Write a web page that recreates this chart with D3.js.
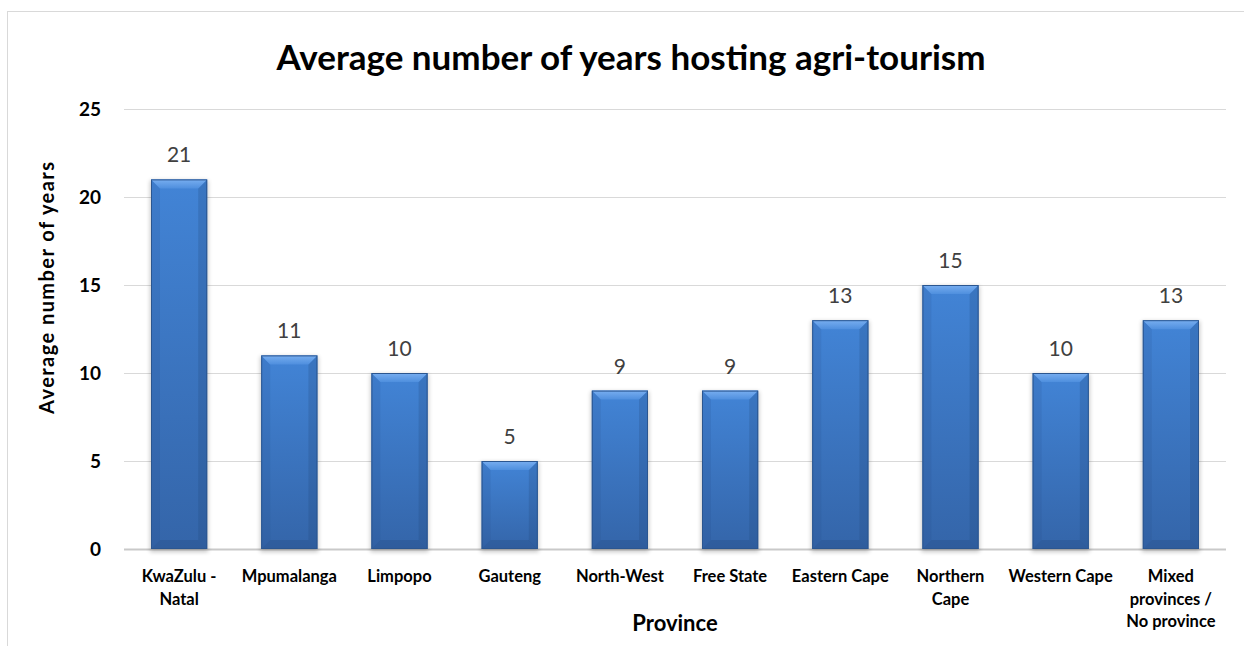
<!DOCTYPE html>
<html>
<head>
<meta charset="utf-8">
<script src="https://cdn.jsdelivr.net/npm/d3@7"></script>
<style>
  html, body { margin: 0; padding: 0; background: #fff; }
  svg { display: block; }
</style>
</head>
<body>
<svg id="chart" width="1244" height="646"></svg>
<script>
// Provinces (line breaks mark where the axis labels wrap)
const categories = [
  "KwaZulu -\nNatal",
  "Mpumalanga",
  "Limpopo",
  "Gauteng",
  "North-West",
  "Free State",
  "Eastern Cape",
  "Northern\nCape",
  "Western Cape",
  "Mixed\nprovinces /\nNo province"
];
const values = [21, 11, 10, 5, 9, 9, 13, 15, 10, 13];
const yTicks = [0, 5, 10, 15, 20, 25];

const title = "Average number of years hosting agri-tourism";
const xTitle = "Province";
const yTitle = "Average number of years";

const W = 1244, H = 646;
const margin = { left: 124, right: 18, top: 109, bottom: 97 };
const font = "Lato, 'Open Sans', sans-serif";

const svg = d3.select("#chart");

// outer chart frame
svg.append("rect")
  .attr("x", 7.5).attr("y", 11.5)
  .attr("width", W + 10).attr("height", H + 10)
  .attr("fill", "none").attr("stroke", "#d9d9d9").attr("stroke-width", 1);

const x = d3.scaleBand()
  .domain(categories)
  .range([margin.left, W - margin.right])
  .paddingInner(0.49).paddingOuter(0.245);

const y = d3.scaleLinear()
  .domain([0, 25])
  .range([H - margin.bottom, margin.top]);

// gradients for the bevelled bars
const defs = svg.append("defs");
function vGrad(id, stops) {
  const g = defs.append("linearGradient").attr("id", id)
    .attr("x1", "0").attr("x2", "0").attr("y1", "0").attr("y2", "1");
  stops.forEach(([o, c]) => g.append("stop").attr("offset", o).attr("stop-color", c));
}
vGrad("barBody", [[0, "#4284d6"], [1, "#3465a9"]]);
vGrad("barTop", [[0, "#78aef0"], [1, "#4f8fde"]]);
const side = defs.append("linearGradient").attr("id", "barSide")
  .attr("x1", "0").attr("x2", "1").attr("y1", "0").attr("y2", "0");
side.append("stop").attr("offset", 0).attr("stop-color", "#1e4478").attr("stop-opacity", 0.45);
side.append("stop").attr("offset", 1).attr("stop-color", "#1e4478").attr("stop-opacity", 0.05);
const shadow = defs.append("filter").attr("id", "shadow")
  .attr("x", "-20%").attr("y", "-5%").attr("width", "140%").attr("height", "115%");
shadow.append("feGaussianBlur").attr("stdDeviation", 2.2);

// gridlines
const grid = svg.append("g");
grid.selectAll("line")
  .data(yTicks)
  .join("line")
  .attr("x1", margin.left).attr("x2", W - margin.right)
  .attr("y1", d => Math.round(y(d)) + 0.5).attr("y2", d => Math.round(y(d)) + 0.5)
  .attr("stroke", d => d === 0 ? "#c9c9c9" : "#d9d9d9")
  .attr("stroke-width", d => d === 0 ? 2 : 1);

// y axis tick labels
const yAxis = svg.append("g")
  .attr("transform", `translate(${margin.left - 23},0)`)
  .call(d3.axisLeft(y).tickValues(yTicks).tickSize(0).tickPadding(0));
yAxis.select(".domain").remove();
yAxis.selectAll("text")
  .attr("font-family", font).attr("font-weight", "bold")
  .attr("font-size", 19).attr("fill", "#000")
  .attr("dy", "0.35em");

// bars
const bev = 9;
const bars = svg.append("g").selectAll("g.bar")
  .data(categories.map((c, i) => ({ c, v: values[i] })))
  .join("g").attr("class", "bar");

bars.each(function(d) {
  const g = d3.select(this);
  const x0 = x(d.c), w = x.bandwidth();
  const y0 = y(d.v), y1 = y(0);
  const h = y1 - y0;
  const b = Math.min(bev, h / 2);
  // soft shadow
  g.append("rect")
    .attr("x", x0 - 1).attr("y", y0 + 1).attr("width", w + 2).attr("height", h + 2)
    .attr("fill", "#000").attr("opacity", 0.22).attr("filter", "url(#shadow)");
  // body
  g.append("rect")
    .attr("x", x0).attr("y", y0).attr("width", w).attr("height", h)
    .attr("fill", "url(#barBody)");
  // left bevel
  g.append("path")
    .attr("d", `M${x0},${y0}L${x0 + b},${y0 + b}L${x0 + b},${y1 - b}L${x0},${y1}Z`)
    .attr("fill", "#1e4478").attr("opacity", 0.12);
  // right bevel
  g.append("path")
    .attr("d", `M${x0 + w},${y0}L${x0 + w - b},${y0 + b}L${x0 + w - b},${y1 - b}L${x0 + w},${y1}Z`)
    .attr("fill", "#1e4478").attr("opacity", 0.22);
  // bottom bevel
  g.append("path")
    .attr("d", `M${x0},${y1}L${x0 + b},${y1 - b}L${x0 + w - b},${y1 - b}L${x0 + w},${y1}Z`)
    .attr("fill", "#1e4478").attr("opacity", 0.25);
  // top bevel (light)
  g.append("path")
    .attr("d", `M${x0},${y0}L${x0 + w},${y0}L${x0 + w - b},${y0 + b}L${x0 + b},${y0 + b}Z`)
    .attr("fill", "url(#barTop)");
  // outline
  g.append("rect")
    .attr("x", x0 + 0.5).attr("y", y0 + 0.5).attr("width", w - 1).attr("height", h - 1)
    .attr("fill", "none").attr("stroke", "#2b5690").attr("stroke-width", 1);
});

// value labels
svg.append("g").selectAll("text")
  .data(categories.map((c, i) => ({ c, v: values[i] })))
  .join("text")
  .attr("x", d => x(d.c) + x.bandwidth() / 2)
  .attr("y", d => y(d.v) - 17)
  .attr("text-anchor", "middle")
  .attr("font-family", font).attr("font-size", 21)
  .attr("fill", "#404040")
  .text(d => d.v);

// category labels
const xl = svg.append("g").selectAll("text")
  .data(categories)
  .join("text")
  .attr("x", d => x(d) + x.bandwidth() / 2)
  .attr("y", H - margin.bottom + 33)
  .attr("text-anchor", "middle")
  .attr("font-family", font).attr("font-weight", "bold")
  .attr("font-size", 16.5).attr("fill", "#000");
xl.each(function(d) {
  const t = d3.select(this);
  d.split("\n").forEach((line, i) => {
    t.append("tspan")
      .attr("x", x(d) + x.bandwidth() / 2)
      .attr("dy", i === 0 ? 0 : 22.5)
      .text(line);
  });
});

// titles
svg.append("text")
  .attr("x", 631).attr("y", 70)
  .attr("text-anchor", "middle")
  .attr("font-family", font).attr("font-weight", "bold")
  .attr("font-size", 35).attr("fill", "#000")
  .text(title);

svg.append("text")
  .attr("x", 675).attr("y", 631)
  .attr("text-anchor", "middle")
  .attr("font-family", font).attr("font-weight", "bold")
  .attr("font-size", 22).attr("fill", "#000")
  .text(xTitle);

svg.append("text")
  .attr("transform", `translate(54,288) rotate(-90)`)
  .attr("text-anchor", "middle")
  .attr("font-family", font).attr("font-weight", "bold")
  .attr("font-size", 20).attr("fill", "#000")
  .attr("textLength", 252).attr("lengthAdjust", "spacing")
  .text(yTitle);
</script>
</body>
</html>
